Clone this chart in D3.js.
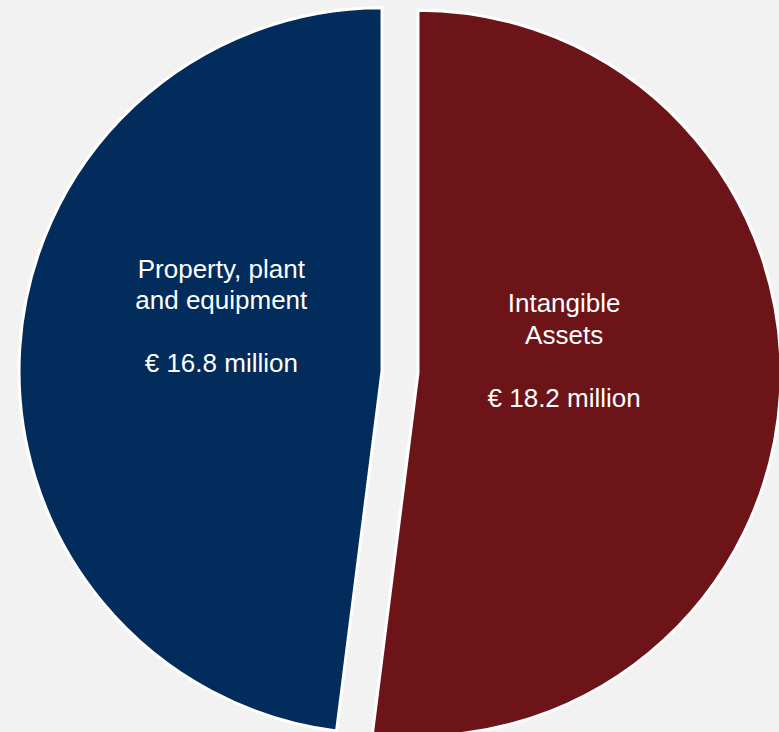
<!DOCTYPE html>
<html>
<head>
<meta charset="utf-8">
<script src="https://cdn.jsdelivr.net/npm/d3@7"></script>
<style>
  html, body { margin: 0; padding: 0; background: #f2f2f2; overflow: hidden; }
  svg { display: block; }
</style>
</head>
<body>
<div id="chart"></div>
<script>
// data
const categories = ["Intangible Assets", "Property, plant and equipment"]
const values = [18.2, 16.8]
const labelLines = [
    ["Intangible", "Assets", "", "\u20ac 18.2 million"],
    ["Property, plant", "and equipment", "", "\u20ac 16.8 million"]
]
const colors = ["#6d1419", "#022c5b"]

const width = 779
const height = 732
const cx = 400
const cy = 372
const radius = 363
const explode = 18
// where each label block sits, polar from the slice's own centre (degrees, px)
const labelPolar = [[81, 148], [289, 170]]

const svg = d3.select("#chart").append("svg")
    .attr("width", width)
    .attr("height", height)

svg.append("rect")
    .attr("width", width)
    .attr("height", height)
    .attr("fill", "#f2f2f2")

const pie = d3.pie().sort(null).startAngle(0).endAngle(2 * Math.PI)
const arcs = pie(values)
const arc = d3.arc().innerRadius(0).outerRadius(radius)

const g = svg.append("g")
    .attr("transform", "translate(" + cx + "," + cy + ")")

const slice = g.selectAll("g.slice")
    .data(arcs)
    .enter()
    .append("g")
    .attr("class", "slice")
    .attr("transform", d => {
        let mid = (d.startAngle + d.endAngle) / 2
        let p = d3.pointRadial(mid, explode)
        return "translate(" + p[0] + "," + p[1] + ")"
    })

slice.append("path")
    .attr("d", arc)
    .attr("fill", (d, i) => colors[i])
    .attr("stroke", "#ffffff")
    .attr("stroke-width", 3)
    .attr("stroke-linejoin", "miter")

const fontSize = 26
const lineH = 31.5

slice.each(function(d, i) {
    let lp = labelPolar[i]
    let p = d3.pointRadial(lp[0] * Math.PI / 180, lp[1])
    let lines = labelLines[i]
    let text = d3.select(this).append("text")
        .attr("text-anchor", "middle")
        .attr("fill", "#ffffff")
        .style("font-family", "'Liberation Sans', Arial, sans-serif")
        .style("font-size", fontSize + "px")
    let firstBase = p[1] - (lines.length - 1) * lineH / 2 + fontSize * 0.36
    lines.forEach((t, k) => {
        text.append("tspan")
            .attr("x", p[0])
            .attr("y", firstBase + k * lineH)
            .text(t)
    })
})
</script>
</body>
</html>
